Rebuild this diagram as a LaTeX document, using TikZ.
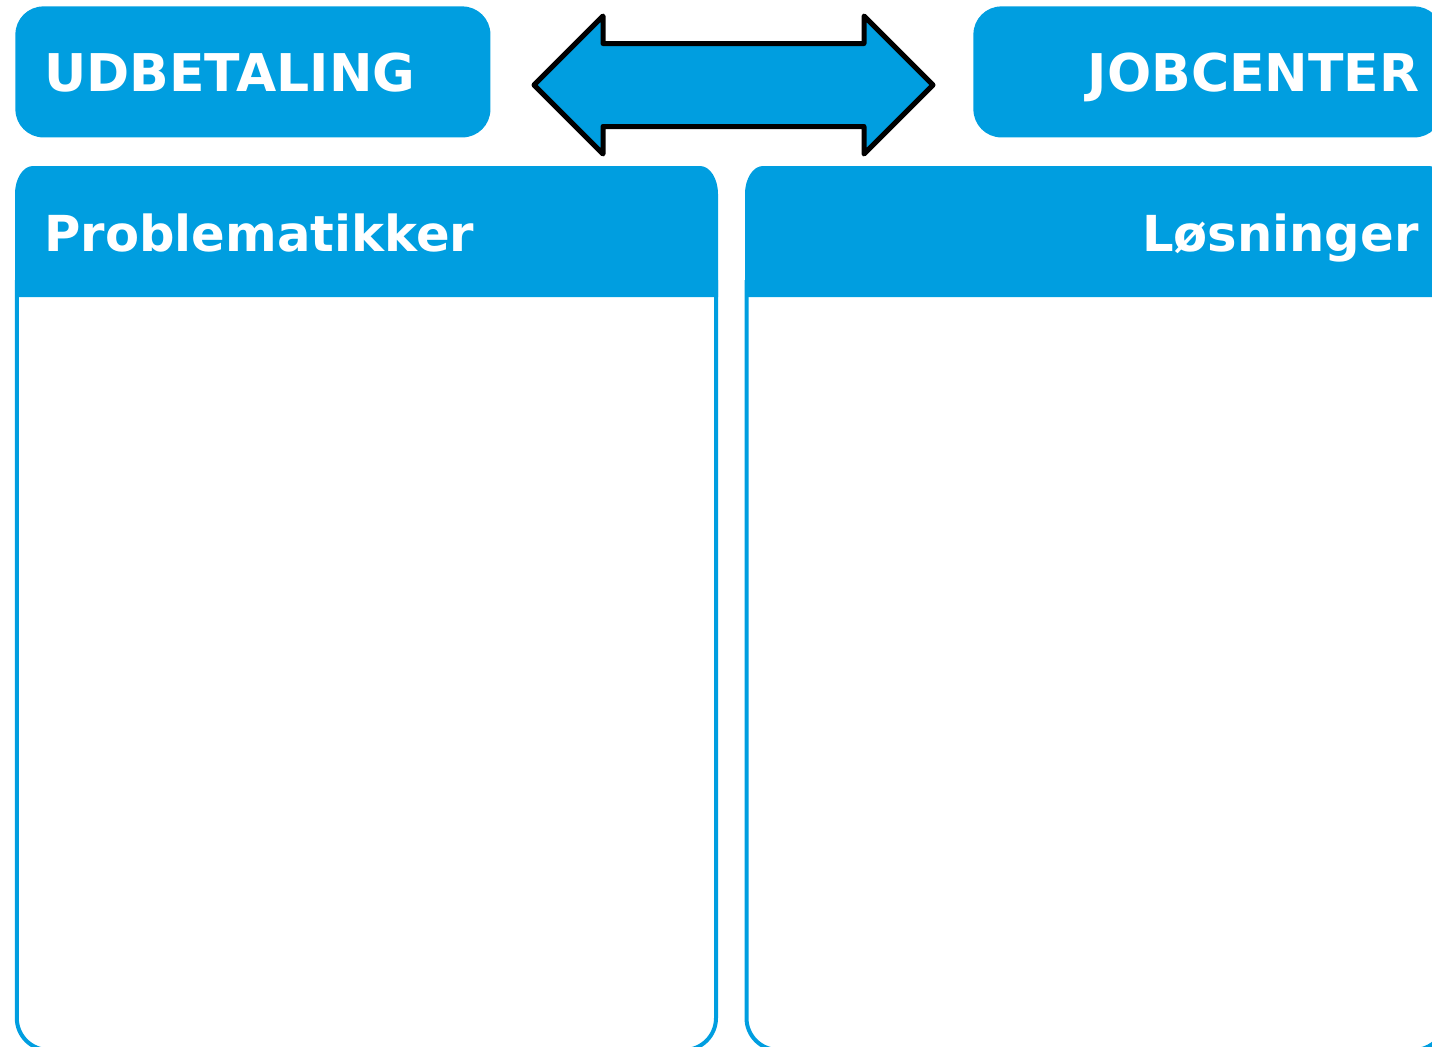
\documentclass[tikz,border=0pt]{standalone}
\usepackage{fontspec}
\setmainfont{DejaVu Sans}
\usetikzlibrary{shapes.arrows}
\definecolor{brandblue}{RGB}{0,158,224}
\tikzset{topbox/.style = {fill = brandblue, rounded corners = 14pt, inner ysep = 0,
                          minimum height = 65.5pt, text = white, text depth = 0pt,
                          font = \bfseries\fontsize{26}{30}\selectfont}}
\tikzset{headtext/.style = {text = white, inner sep = 0,
                            font = \bfseries\fontsize{24.8}{30}\selectfont}}
\tikzset{frame/.style = {draw = brandblue, line width = 2pt, rounded corners = 16pt}}
\tikzset{bigarrow/.style = {double arrow, draw = black, fill = brandblue, line width = 2.5pt,
                            line join = round, inner xsep = 0, inner ysep = 19.5pt,
                            minimum height = 199.5pt, double arrow head extend = 13.75pt,
                            double arrow tip angle = 90}}

\begin{document}
\begin{tikzpicture}[x = 0.5pt, y = -0.5pt]
    \useasboundingbox (0, 0) rectangle (1432, 1046);
    \clip (0, 0) rectangle (1432, 1046);

    % top boxes
    \node [topbox, anchor = north west, inner xsep = 14.5pt, text width = 208.5pt,
           align = left] (udbetaling) at (15, 6) {UDBETALING};
    \node [topbox, anchor = north west, inner xsep = 11.5pt, text width = 211.5pt,
           align = right] (jobcenter) at (973, 6) {JOBCENTER};

    \node [bigarrow] (link) at (733.5, 85) {};

    % left panel
    \draw [frame] (16.8, 280) -- (16.8, 1050) -- (716, 1050) -- (716, 280);
    \fill [brandblue] (15, 297) -- (15, 194)
        arc [start angle = 180, end angle = 90, x radius = 9pt, y radius = 14pt]
        -- (700, 166)
        arc [start angle = 90, end angle = 0, x radius = 9pt, y radius = 14pt]
        -- (718, 297) -- cycle;
    \node [headtext, anchor = base west] (problems) at (44, 251) {Problematikker};

    % right panel
    \draw [frame] (746.5, 280) -- (746.5, 1050) -- (1445.7, 1050) -- (1445.7, 280);
    \fill [brandblue] (745, 297) -- (745, 194)
        arc [start angle = 180, end angle = 90, x radius = 9pt, y radius = 14pt]
        -- (1429, 166)
        arc [start angle = 90, end angle = 0, x radius = 9pt, y radius = 14pt]
        -- (1447, 297) -- cycle;
    \node [headtext, anchor = base east] (solutions) at (1419, 251) {Løsninger};
\end{tikzpicture}
\end{document}
